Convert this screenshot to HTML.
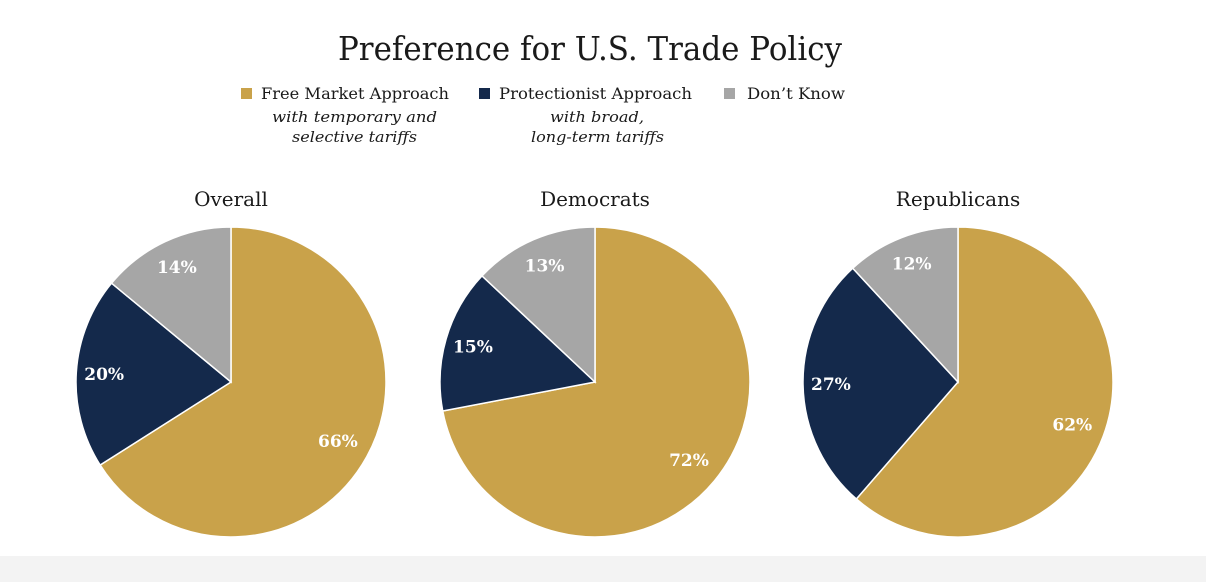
<!DOCTYPE html>
<html><head><meta charset="utf-8"><style>
body{margin:0;width:1206px;height:582px;background:#fff;overflow:hidden;font-family:"DejaVu Serif","Liberation Serif",serif;}
svg{display:block}
</style></head><body>
<svg width="1206" height="582">
<rect x="0" y="556" width="1206" height="26" fill="#f3f3f3"/>
<text x="338" y="60" textLength="504" lengthAdjust="spacingAndGlyphs" font-size="33" fill="#1a1a1a">Preference for U.S. Trade Policy</text>
<g font-size="16" fill="#1a1a1a">
<g>
<rect x="241" y="88" width="11" height="11" fill="#C9A24A"/>
<text x="261" y="99" textLength="188" lengthAdjust="spacingAndGlyphs">Free Market Approach</text>
<text x="272" y="122" textLength="165" lengthAdjust="spacingAndGlyphs" font-style="italic" font-size="15">with temporary and</text>
<text x="292" y="142" textLength="125" lengthAdjust="spacingAndGlyphs" font-style="italic" font-size="15">selective tariffs</text>
</g>
<g>
<rect x="479" y="88" width="11" height="11" fill="#14294B"/>
<text x="499" y="99" textLength="193" lengthAdjust="spacingAndGlyphs">Protectionist Approach</text>
<text x="550" y="122" textLength="94" lengthAdjust="spacingAndGlyphs" font-style="italic" font-size="15">with broad,</text>
<text x="531" y="142" textLength="133" lengthAdjust="spacingAndGlyphs" font-style="italic" font-size="15">long-term tariffs</text>
</g>
<g>
<rect x="724" y="88" width="11" height="11" fill="#A6A6A6"/>
<text x="747" y="99" textLength="98" lengthAdjust="spacingAndGlyphs">Don’t Know</text>
</g>
</g>
<g id="pies"></g>
</svg>
<script>
const groups=["Overall","Democrats","Republicans"];
const freeMarket=[66,72,62];
const protectionist=[20,15,27];
const dontKnow=[14,13,12];
const colors=["#C9A24A","#14294B","#A6A6A6"];
const sliceNames=["free-market","protectionist","dont-know"];
const centersX=[231,595,958];
const cy=382,R=155;
const ns="http://www.w3.org/2000/svg";
const root=document.getElementById("pies");
function pt(cx,a,r){return [cx+r*Math.sin(a),cy-r*Math.cos(a)];}
groups.forEach((g,i)=>{
  const cx=centersX[i];
  const vals=[freeMarket[i],protectionist[i],dontKnow[i]];
  const tot=vals.reduce((a,b)=>a+b,0);
  const t=document.createElementNS(ns,"text");
  t.setAttribute("x",cx);t.setAttribute("y",206);t.setAttribute("text-anchor","middle");
  t.setAttribute("font-size","20");t.setAttribute("fill","#1a1a1a");
  t.textContent=g;
  
  
  root.appendChild(t);
  let a0=0;
  vals.forEach((v,j)=>{
    const a1=a0+v/tot*2*Math.PI;
    const p0=pt(cx,a0,R),p1=pt(cx,a1,R);
    const large=(a1-a0)>Math.PI?1:0;
    const p=document.createElementNS(ns,"path");
    p.setAttribute("d",`M${cx},${cy}L${p0[0]},${p0[1]}A${R},${R} 0 ${large} 1 ${p1[0]},${p1[1]}Z`);
    p.setAttribute("fill",colors[j]);p.setAttribute("stroke","#fff");p.setAttribute("stroke-width","1.5");
    
    
    root.appendChild(p);
    const m=(a0+a1)/2;
    const lp=pt(cx,m,j===0?122:R*0.82);
    const l=document.createElementNS(ns,"text");
    l.setAttribute("x",lp[0]);l.setAttribute("y",lp[1]+6);l.setAttribute("text-anchor","middle");
    l.setAttribute("font-size","17");l.setAttribute("font-weight","bold");l.setAttribute("fill","#fff");
    l.textContent=v+"%";
    
    
    root.appendChild(l);
    a0=a1;
  });
});
</script>
</body></html>
